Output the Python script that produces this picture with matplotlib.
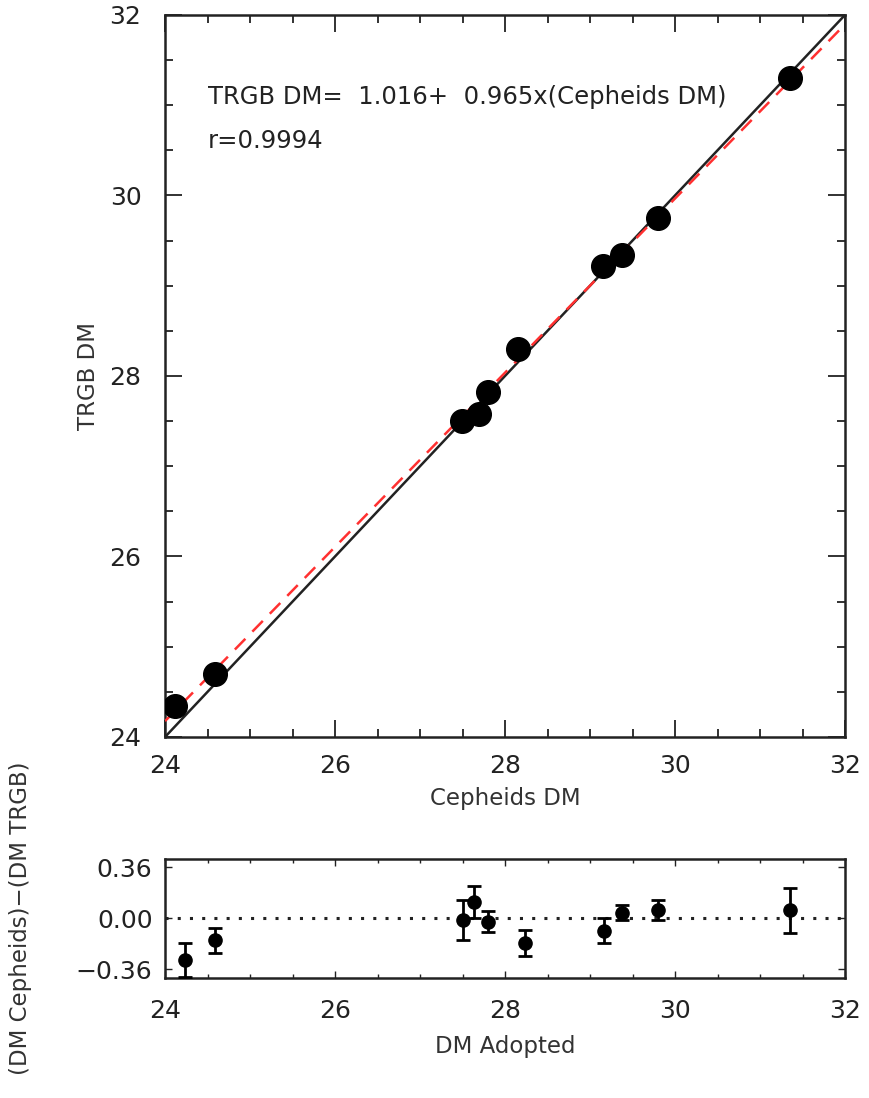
import numpy as np
import matplotlib.pyplot as plt
from matplotlib.ticker import MultipleLocator, FixedLocator

plt.rcParams['font.family'] = ['DejaVu Sans']

# 造父变星与TRGB距离模数
cepheid_dm = [24.12, 24.59, 27.49, 27.69, 27.80, 28.15, 29.15, 29.38, 29.80, 31.35]
trgb_dm = [24.34, 24.70, 27.50, 27.58, 27.82, 28.30, 29.22, 29.34, 29.75, 31.30]

# 残差面板
adopted_dm = [24.23, 24.59, 27.50, 27.64, 27.80, 28.23, 29.16, 29.38, 29.80, 31.35]
resid = [-0.29, -0.155, -0.012, 0.115, -0.022, -0.175, -0.085, 0.042, 0.06, 0.057]
resid_err = [0.12, 0.087, 0.14, 0.115, 0.076, 0.093, 0.087, 0.05, 0.07, 0.16]

# 线性拟合参数
fit_a, fit_b = 1.016, 0.965
fit_r = 0.9994

fig = plt.figure(figsize=(8.7, 10.98), dpi=100)
ax = fig.add_axes([0.1897, 0.3288, 0.7816, 0.6576])
ax2 = fig.add_axes([0.1897, 0.1093, 0.7816, 0.1084])

edge = '#222222'
label_col = '#333333'

# 上图：TRGB vs Cepheids
xx = np.array([24.0, 32.0])
ax.plot(xx, xx, color='#222222', lw=1.8, zorder=2)
ax.plot(xx, fit_a + fit_b * xx, color='#ff3030', lw=1.8, ls=(0, (6, 4)), zorder=3)
ax.scatter(cepheid_dm, trgb_dm, s=290, color='black', zorder=4)

ax.text(24.5, 31.09, 'TRGB DM=  %.3f+  %.3fx(Cepheids DM)' % (fit_a, fit_b),
        fontsize=17.5, va='center', ha='left', color='#222222')
ax.text(24.5, 30.60, 'r=%.4f' % fit_r, fontsize=17.5, va='center', ha='left',
        color='#222222')

ax.set_xlim(24, 32)
ax.set_ylim(24, 32)
ax.xaxis.set_major_locator(MultipleLocator(2))
ax.xaxis.set_minor_locator(MultipleLocator(0.5))
ax.yaxis.set_major_locator(MultipleLocator(2))
ax.yaxis.set_minor_locator(MultipleLocator(0.5))
ax.set_xlabel('Cepheids DM', fontsize=16.5, color=label_col)
ax.set_ylabel('TRGB DM', fontsize=16.5, color=label_col)
ax.xaxis.set_label_coords(0.5, -0.069)
ax.yaxis.set_label_coords(-0.095, 0.5)
ax.tick_params(which='both', direction='in', top=True, right=True,
               labelsize=18, colors=edge, width=1.3)
ax.tick_params(axis='x', which='major', length=12, pad=12)
ax.tick_params(axis='y', which='major', length=12, pad=17)
ax.tick_params(which='minor', length=6)

# 下图：残差
ax2.axhline(0, color='#222222', lw=2.2, ls=(0, (1, 3)), zorder=1)
ax2.errorbar(adopted_dm, resid, yerr=resid_err, fmt='o', color='black',
             ms=9.5, capsize=5, capthick=2, elinewidth=2, zorder=3)
ax2.set_xlim(24, 32)
ax2.set_ylim(-0.42, 0.42)
ax2.xaxis.set_major_locator(MultipleLocator(2))
ax2.xaxis.set_minor_locator(MultipleLocator(0.5))
ax2.yaxis.set_major_locator(FixedLocator([-0.36, 0.0, 0.36]))
ax2.set_yticklabels(['\u22120.36', '0.00', '0.36'])
ax2.set_xlabel('DM Adopted', fontsize=16.5, color=label_col)
ax2.set_ylabel('(DM Cepheids)\u2212(DM TRGB)', fontsize=16.5, color=label_col)
ax2.xaxis.set_label_coords(0.5, -0.48)
ax2.yaxis.set_label_coords(-0.196, 0.5)
ax2.tick_params(which='both', direction='in', top=True, right=True,
                labelsize=18, colors=edge, width=1.0)
ax2.tick_params(axis='x', which='major', length=5, pad=15)
ax2.tick_params(axis='y', which='major', length=5, pad=9)
ax2.tick_params(which='minor', length=3)

for a in (ax, ax2):
    for sp in a.spines.values():
        sp.set_linewidth(1.8)
        sp.set_color(edge)

fig.savefig('out.png', dpi=100)
